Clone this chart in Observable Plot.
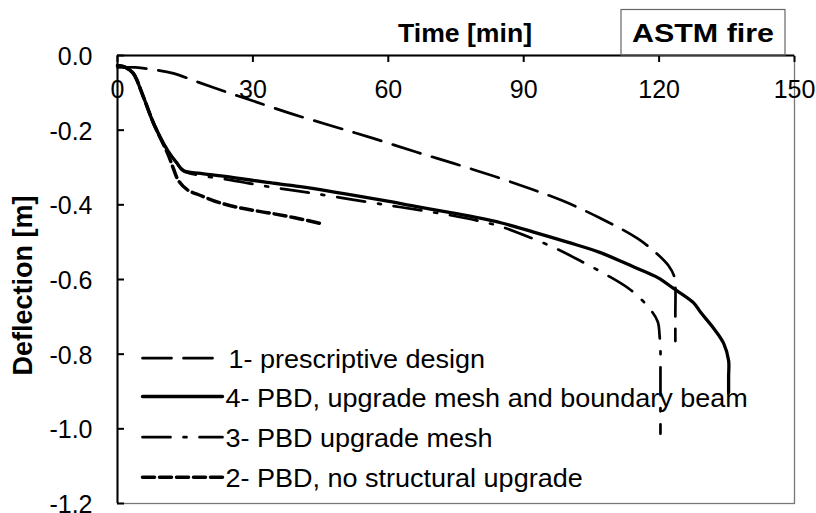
<!DOCTYPE html>
<html><head><meta charset="utf-8">
<script src="https://cdn.jsdelivr.net/npm/d3@7"></script>
<script src="https://cdn.jsdelivr.net/npm/@observablehq/plot@0.6"></script>
<style>
html,body{margin:0;padding:0;background:#fff;}
#chart{width:816px;height:513px;}
</style></head><body><div id="chart"></div>
<script>
// ---- data ----
const xTicks = [0, 30, 60, 90, 120, 150];
const yTicks = [0, -0.2, -0.4, -0.6, -0.8, -1.0, -1.2];
const xLabel = "Time [min]";
const yLabel = "Deflection [m]";
const boxLabel = "ASTM fire";

const name1 = "1- prescriptive design";
const time1 = [0, 4, 8, 12.4, 18, 24.4, 30.1, 38.3, 47.9, 56.7, 66, 74.5, 83.3, 91.5, 98.8, 107, 115.2, 119.9, 122.1, 123.3, 123.6, 123.6, 123.6];
const defl1 = [-0.032, -0.032, -0.038, -0.048, -0.072, -0.099, -0.122, -0.155, -0.19, -0.222, -0.258, -0.289, -0.323, -0.357, -0.39, -0.436, -0.49, -0.535, -0.563, -0.59, -0.62, -0.69, -0.765];

const name4 = "4- PBD, upgrade mesh and boundary beam";
const time4 = [0, 1.8, 3.5, 5.8, 8.0, 11.1, 13.1, 14.6, 18.4, 25.7, 33.2, 40.5, 58.9, 66, 73.8, 80, 84.9, 92.2, 99.7, 107, 114.3, 119.7, 123.2, 127.6, 129.2, 132.1, 134.3, 135.4, 135.4, 135.4];
const defl4 = [-0.027, -0.032, -0.048, -0.113, -0.182, -0.254, -0.287, -0.308, -0.316, -0.327, -0.340, -0.351, -0.388, -0.404, -0.421, -0.435, -0.448, -0.473, -0.5, -0.528, -0.566, -0.595, -0.624, -0.662, -0.688, -0.731, -0.771, -0.817, -0.86, -0.903];

const name3 = "3- PBD upgrade mesh";
const time3 = [0, 1.8, 3.5, 5.8, 8.0, 11.1, 13.1, 14.6, 18.4, 25.7, 33.2, 40.5, 58.9, 73.8, 80, 84.9, 91.5, 97.5, 103, 108.4, 113.7, 117.7, 119.7, 120.1, 120.3, 120.3, 120.3, 120.3];
const defl3 = [-0.027, -0.032, -0.048, -0.113, -0.182, -0.254, -0.287, -0.31, -0.321, -0.335, -0.351, -0.364, -0.399, -0.428, -0.443, -0.458, -0.488, -0.519, -0.553, -0.588, -0.628, -0.675, -0.713, -0.75, -0.79, -0.85, -0.93, -1.013];

const name2 = "2- PBD, no structural upgrade";
const time2 = [0, 1.8, 3.5, 5.8, 8.0, 11.1, 12.3, 13.5, 15.5, 18.4, 22.8, 27.9, 33.2, 39, 45];
const defl2 = [-0.027, -0.032, -0.048, -0.113, -0.182, -0.262, -0.3, -0.335, -0.36, -0.375, -0.395, -0.41, -0.421, -0.434, -0.45];

// ---- styles ----
const seriesList = [
  {name: name1, t: time1, d: defl1, width: 2.7, dash: "29,12", sample: 71},
  {name: name4, t: time4, d: defl4, width: 3.3, dash: null, sample: 80},
  {name: name3, t: time3, d: defl3, width: 2.7, dash: "28,13,3,13", sample: 80},
  {name: name2, t: time2, d: defl2, width: 3.5, dash: "12,5", sample: 80}
];
const legendLineDy = [-145.3, -107, -66.3, -26.3];
const legendTextDx = [111, 108, 108, 108];

const FONT = "'Liberation Sans', Arial, Helvetica, sans-serif";
const hLine = {draw(ctx, l) { ctx.moveTo(0, 0); ctx.lineTo(l, 0); }};

const marks = [];
marks.push(Plot.frame({stroke: "#777", strokeWidth: 1.3}));
marks.push(Plot.ruleY([0], {stroke: "#000", strokeWidth: 2}));
marks.push(Plot.ruleX([0], {stroke: "#000", strokeWidth: 2}));
marks.push(Plot.axisX({anchor: "top", ticks: xTicks, tickSize: -6, tickFormat: () => "", label: null, strokeWidth: 2}));
marks.push(Plot.axisY({anchor: "left", ticks: yTicks, tickSize: -7, tickFormat: () => "", label: null, strokeWidth: 2}));
marks.push(Plot.text(xTicks, {x: d => d, frameAnchor: "top", dy: 34, lineAnchor: "middle", textAnchor: "middle", text: d => String(d), fontSize: 25, fill: "#000"}));
marks.push(Plot.text(yTicks, {y: d => d, frameAnchor: "left", dx: -25, dy: 1.5, lineAnchor: "middle", textAnchor: "end", text: d => d.toFixed(1), fontSize: 25, fill: "#000"}));
marks.push(Plot.text([xLabel], {frameAnchor: "top", dx: 9, dy: -22, lineAnchor: "middle", textAnchor: "middle", text: d => d, fontSize: 26, fontWeight: "bold", fill: "#000"}));
marks.push(Plot.text([yLabel], {frameAnchor: "left", dx: -94, dy: 6, rotate: -90, lineAnchor: "middle", textAnchor: "middle", text: d => d, fontSize: 27, fontWeight: "bold", fill: "#000"}));

for (const s of seriesList) {
  const rows = s.t.map((t, i) => ({t, d: s.d[i]}));
  marks.push(Plot.line(rows, {x: "t", y: "d", stroke: "#000", strokeWidth: s.width, strokeDasharray: s.dash, curve: "catmull-rom"}));
}
seriesList.forEach((s, k) => {
  marks.push(Plot.vector([0], {frameAnchor: "bottom-left", dx: 25, dy: legendLineDy[k], length: s.sample, rotate: 0, anchor: "start", shape: hLine, stroke: "#000", strokeWidth: s.width, strokeDasharray: s.dash}));
  marks.push(Plot.text([s.name], {frameAnchor: "bottom-left", dx: legendTextDx[k], dy: legendLineDy[k] + 2, lineAnchor: "middle", textAnchor: "start", text: d => d, fontSize: 25, fill: "#000"}));
});

const plot = Plot.plot({
  width: 816, height: 513,
  marginLeft: 117, marginRight: 22, marginTop: 55, marginBottom: 10,
  style: {fontFamily: FONT, fontSize: "25px", background: "#fff", color: "#000", overflow: "visible"},
  x: {domain: [0, 150]},
  y: {domain: [-1.2, 0]},
  marks
});
document.getElementById("chart").append(plot);

// annotation box
const svg = d3.select(plot.tagName.toLowerCase() === "svg" ? plot : plot.querySelector("svg"));
svg.append("rect").attr("x", 621).attr("y", 9.5).attr("width", 164).attr("height", 45.5)
  .attr("fill", "none").attr("stroke", "#666").attr("stroke-width", 1.2);
svg.append("text").attr("x", 703).attr("y", 42).attr("text-anchor", "middle")
  .attr("font-family", FONT).attr("font-size", 26).attr("font-weight", "bold").attr("fill", "#000")
  .text(boxLabel);

// slight horizontal widening of the text as in the reference
const legendNames = seriesList.map(s => s.name);
svg.selectAll("text").each(function() {
  const txt = this.textContent;
  let target = null;
  const w = this.getComputedTextLength();
  if (legendNames.includes(txt)) target = w * 1.08;
  else if (txt === boxLabel) target = 142;
  else if (txt === xLabel) target = 134;
  if (target && w > 0) {
    this.setAttribute("textLength", target);
    this.setAttribute("lengthAdjust", "spacingAndGlyphs");
  }
});
</script></body></html>
